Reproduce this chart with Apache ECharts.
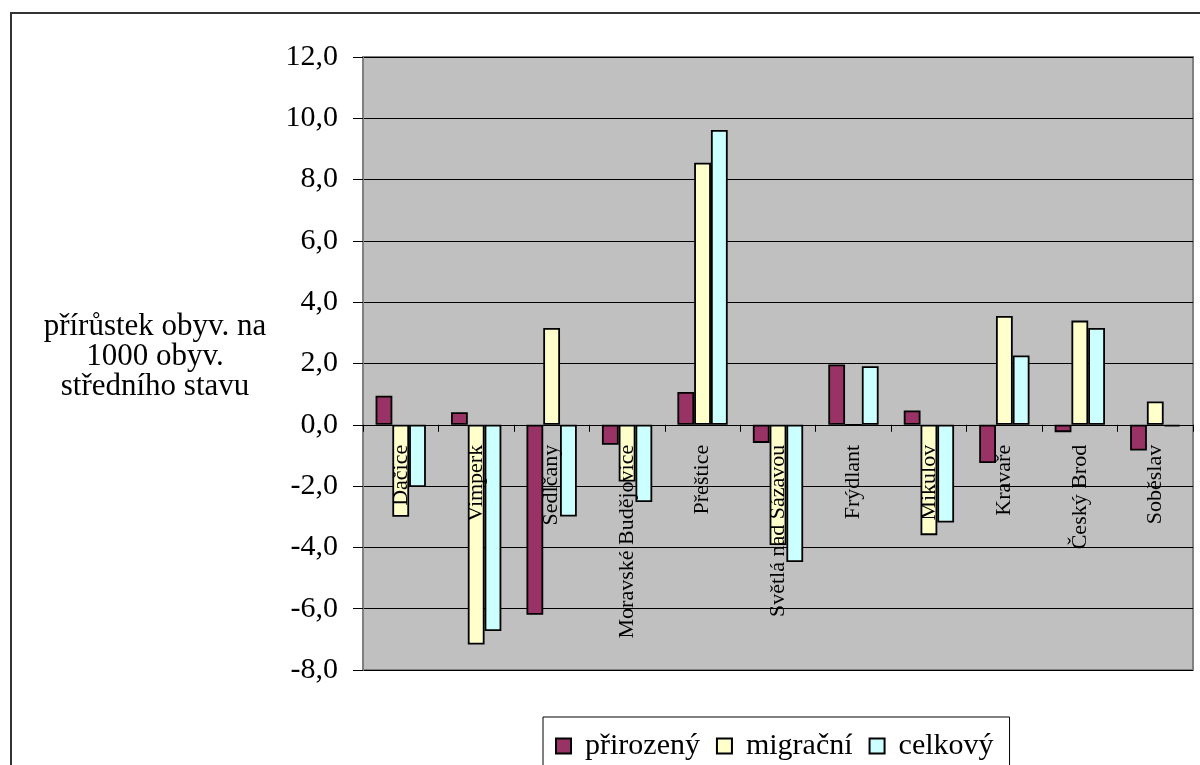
<!DOCTYPE html>
<html>
<head>
<meta charset="utf-8">
<script src="https://cdn.jsdelivr.net/npm/echarts@6/dist/echarts.min.js"></script>
<style>
html,body{margin:0;padding:0;background:#fff;}
#chart{width:1200px;height:765px;}
</style>
</head>
<body>
<div id="chart"></div>
<script>
const categories = ["Dačice","Vimperk","Sedlčany","Moravské Budějovice","Přeštice","Světlá nad Sázavou","Frýdlant","Mikulov","Kravaře","Český Brod","Soběslav"];
const seriesNames = ["přirozený","migrační","celkový"];
const prirozeny = [0.95, 0.41, -6.2, -0.65, 1.07, -0.59, 1.97, 0.47, -1.25, -0.24, -0.84];
const migracni  = [-3.0, -7.17, 3.16, -1.85, 8.55, -3.92, 0, -3.6, 3.55, 3.4, 0.76];
const celkovy   = [-2.03, -6.73, -2.99, -2.52, 9.62, -4.48, 1.91, -3.19, 2.26, 3.16, -0.05];
const yAxisTitle = "přírůstek obyv. na\n1000 obyv.\nstředního stavu";
const colors = ["#993366", "#FFFFCC", "#CCFFFF"];
const FONT = "'Liberation Serif', 'Times New Roman', serif";

const Y_MIN = -8, Y_MAX = 12, Y_STEP = 2;
const GRID = {left: 363, top: 57, right: 7, bottom: 95};
const H = 765;
const gridHeight = H - GRID.top - GRID.bottom;
// place the category axis (line + labels) at the zero value line
const zeroOffset = -gridHeight * (0 - Y_MIN) / (Y_MAX - Y_MIN);

const chart = echarts.init(document.getElementById('chart'), null, {renderer: 'canvas'});
const values = [prirozeny, migracni, celkovy];
chart.setOption({
  animation: false,
  backgroundColor: '#ffffff',
  textStyle: {fontFamily: FONT, color: '#000'},
  grid: Object.assign({
    outerBoundsMode: 'none', containLabel: false,
    show: true, backgroundColor: '#C0C0C0', borderColor: '#808080', borderWidth: 2
  }, GRID),
  legend: {
    data: seriesNames,
    left: 543, top: 717,
    orient: 'horizontal',
    borderColor: '#000', borderWidth: 1,
    padding: [14, 16, 30, 12],
    itemWidth: 15, itemHeight: 15, itemGap: 16,
    icon: 'rect',
    textStyle: {fontFamily: FONT, fontSize: 30, color: '#000', padding: [0, 0, 0, 9]}
  },
  xAxis: {
    type: 'category',
    data: categories,
    position: 'bottom',
    offset: zeroOffset,
    z: 10,
    axisLine: {onZero: false, lineStyle: {color: '#000', width: 1}},
    axisTick: {show: true, inside: false, length: 7, alignWithLabel: false, lineStyle: {color: '#000'}},
    axisLabel: {rotate: 90, margin: 20, fontFamily: FONT, fontSize: 22, color: '#000', interval: 0, hideOverlap: false},
    splitLine: {show: false}
  },
  yAxis: {
    type: 'value',
    min: Y_MIN, max: Y_MAX, interval: Y_STEP,
    axisLine: {show: true, lineStyle: {color: '#808080', width: 2}},
    axisTick: {show: true, inside: false, length: 10, lineStyle: {color: '#000'}},
    axisLabel: {
      margin: 25, fontFamily: FONT, fontSize: 30, color: '#000',
      formatter: v => v.toFixed(1).replace('.', ',')
    },
    splitLine: {show: true, lineStyle: {color: '#000', width: 1}}
  },
  series: seriesNames.map((n, i) => ({
    name: n,
    type: 'bar',
    data: values[i],
    barGap: '0%',
    barCategoryGap: '33.3%',
    itemStyle: {color: colors[i], borderColor: '#000', borderWidth: 1.8}
  })),
  graphic: [
    {
      type: 'rect', silent: true, z: -1,
      shape: {x: 11, y: 13, width: 1250, height: 800},
      style: {fill: 'none', stroke: '#333', lineWidth: 2}
    },
    {
      type: 'text', silent: true,
      x: 155, y: 357,
      style: {
        text: yAxisTitle, fill: '#000',
        font: "31px " + FONT,
        align: 'center', verticalAlign: 'middle', lineHeight: 30
      }
    }
  ]
});
</script>
</body>
</html>
